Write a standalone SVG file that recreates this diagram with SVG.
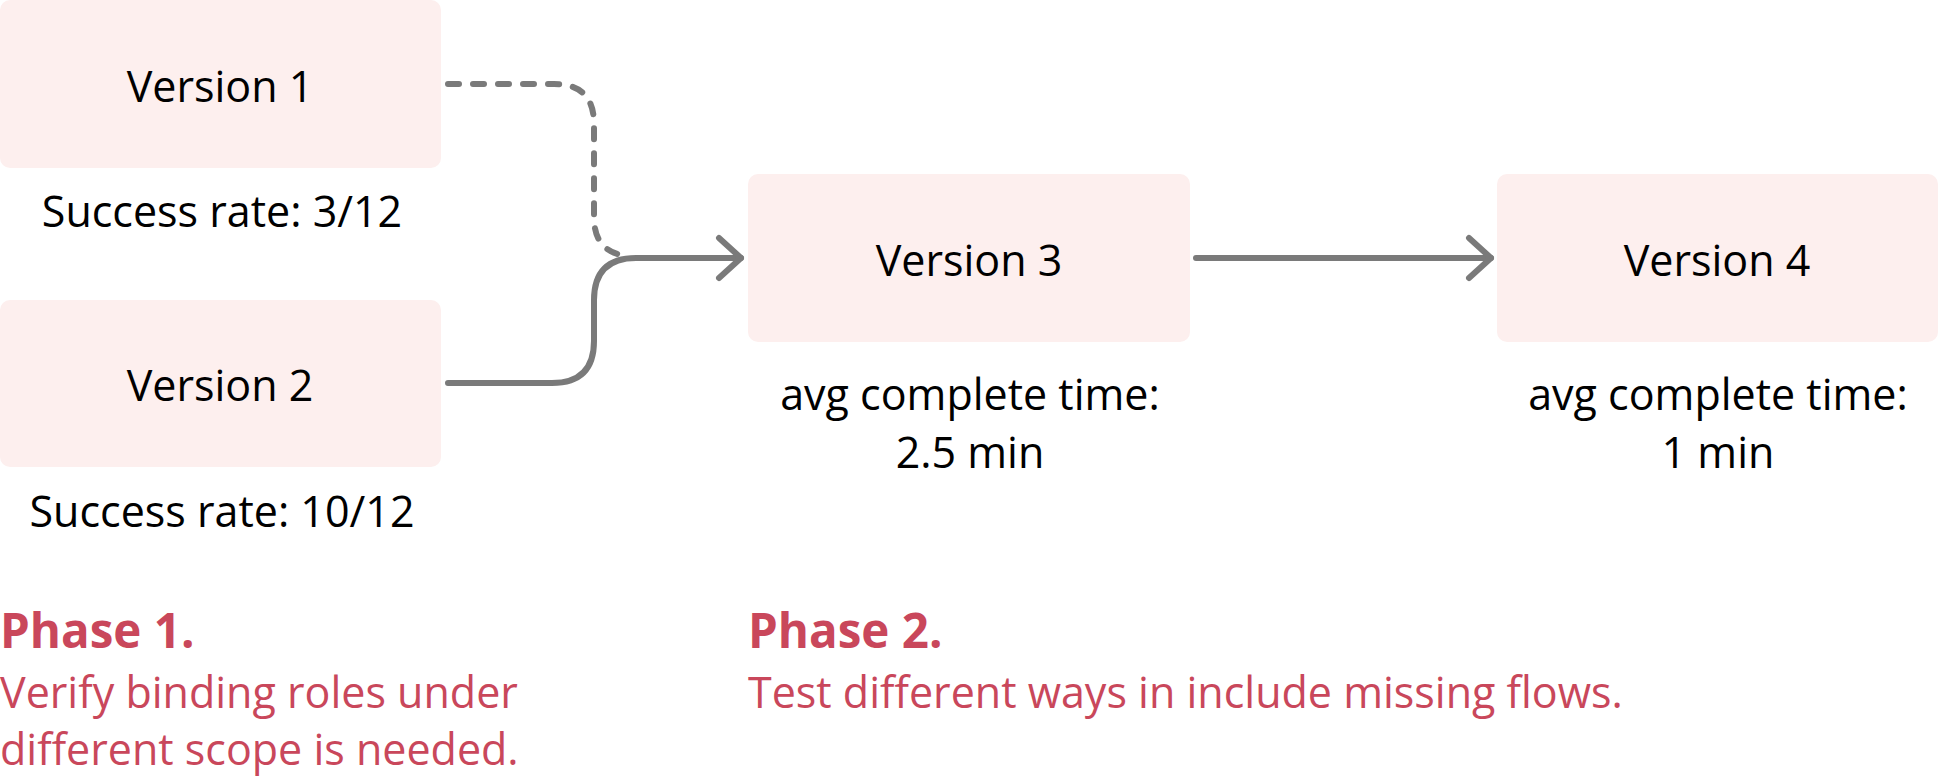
<svg xmlns="http://www.w3.org/2000/svg" width="1938" height="778" viewBox="0 0 1938 778">
<defs>
<style>
.box{fill:#fdefee;}
.lbl{font-family:"Open Sans","Noto Sans","Liberation Sans",sans-serif;font-size:43px;fill:#000;text-anchor:middle;}
.ph{font-family:"Open Sans","Noto Sans","Liberation Sans",sans-serif;font-size:47.5px;font-weight:bold;fill:#c9475b;}
.body{font-family:"Open Sans","Noto Sans","Liberation Sans",sans-serif;font-size:43px;fill:#c9475b;}
.conn{fill:none;stroke:#7a7a7a;stroke-width:6;stroke-linecap:round;stroke-linejoin:round;}
.dash{stroke-dasharray:11 14;}
</style>
<marker id="arr" viewBox="0 0 30 50" refX="26" refY="25" markerWidth="30" markerHeight="50" markerUnits="userSpaceOnUse" orient="auto">
<path d="M4,5 L26,25 L4,45" fill="none" stroke="#7a7a7a" stroke-width="6" stroke-linecap="round" stroke-linejoin="round"/>
</marker>
</defs>
<rect width="1938" height="778" fill="#fff"/>
<g id="connectors">
<path class="conn dash" d="M448,84 H554 Q594,84 594,124 V217 Q594,253 628,256"/>
<path class="conn" d="M448,383 H552 Q594,383 594,341 V300 Q594,258 636,258 H741" marker-end="url(#arr)"/>
<path class="conn" d="M1196,258 H1491" marker-end="url(#arr)"/>
</g>
<g id="v1">
<rect class="box" x="0" y="0" width="441" height="168" rx="10"/>
<text class="lbl" x="220" y="102">Version 1</text>
<text class="lbl" x="222" y="227">Success rate: 3/12</text>
</g>
<g id="v2">
<rect class="box" x="0" y="300" width="441" height="167" rx="10"/>
<text class="lbl" x="220" y="401">Version 2</text>
<text class="lbl" x="222" y="527">Success rate: 10/12</text>
</g>
<g id="v3">
<rect class="box" x="748" y="174" width="442" height="168" rx="10"/>
<text class="lbl" x="969" y="276">Version 3</text>
<text class="lbl" x="970" y="410">avg complete time:</text>
<text class="lbl" x="970" y="468">2.5 min</text>
</g>
<g id="v4">
<rect class="box" x="1497" y="174" width="441" height="168" rx="10"/>
<text class="lbl" x="1717" y="276">Version 4</text>
<text class="lbl" x="1718" y="410">avg complete time:</text>
<text class="lbl" x="1718" y="468">1 min</text>
</g>
<g id="phase1">
<text class="ph" x="0" y="648">Phase 1.</text>
<text class="body" x="0" y="708">Verify binding roles under</text>
<text class="body" x="0" y="765">different scope is needed.</text>
</g>
<g id="phase2">
<text class="ph" x="748" y="648">Phase 2.</text>
<text class="body" x="748" y="708">Test different ways in include missing flows.</text>
</g>
</svg>
